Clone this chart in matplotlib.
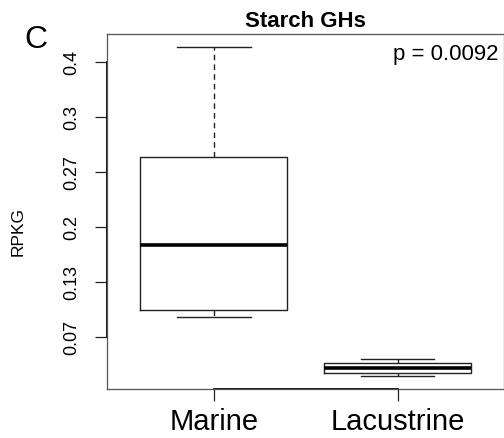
import matplotlib.pyplot as plt
from matplotlib.transforms import blended_transform_factory

plt.rcParams['font.family'] = ['Liberation Sans', 'DejaVu Sans']

groups = ["Marine", "Lacustrine"]
whislo = [0.091, 0.020]
q1 = [0.100, 0.023]
med = [0.179, 0.029]
q3 = [0.285, 0.036]
whishi = [0.419, 0.040]

ytick_vals = [0.0667, 0.1333, 0.2, 0.2667, 0.3333, 0.4]
ytick_labels = ["0.07", "0.13", "0.2", "0.27", "0.3", "0.4"]

stats = []
for i, g in enumerate(groups):
    stats.append(dict(label=g, whislo=whislo[i], q1=q1[i], med=med[i],
                      q3=q3[i], whishi=whishi[i], fliers=[]))

fig = plt.figure(figsize=(5.04, 4.38), dpi=100)
ax = fig.add_axes([0.2123, 0.1119, 0.7885, 0.8116])

ax.bxp(stats, positions=[1, 2], widths=0.8, showfliers=False,
       boxprops=dict(color='#222222', linewidth=1.0),
       medianprops=dict(color='black', linewidth=2.6, solid_capstyle='butt'),
       whiskerprops=dict(color='#222222', linewidth=1.0, linestyle=(0, (4, 3))),
       capprops=dict(color='#222222', linewidth=1.0),
       capwidths=0.4)

ax.set_xlim(0.42, 2.58)
ax.set_ylim(0.004, 0.435)

for s in ax.spines.values():
    s.set_color('#555555')
    s.set_linewidth(0.9)

ax.set_yticks(ytick_vals)
ax.set_yticklabels(ytick_labels, rotation=90, va='center', fontsize=13)
ax.set_xticks([1, 2])
ax.set_xticklabels(groups, fontsize=21)
ax.tick_params(axis='y', length=8.5, width=0.9, pad=11, color='#222222')
ax.tick_params(axis='x', length=8.5, width=0.9, pad=5, color='#222222')

# R style axis lines between first and last tick
tl = blended_transform_factory(ax.transAxes, ax.transData)
ax.plot([0, 0], [ytick_vals[0], ytick_vals[-1]], color='black', lw=1.3,
        transform=tl, clip_on=False)
tb = blended_transform_factory(ax.transData, ax.transAxes)
ax.plot([1, 2], [0, 0], color='black', lw=1.3, transform=tb, clip_on=False)

ax.set_ylabel("RPKG", fontsize=12.5)
ax.yaxis.set_label_coords(-0.205, 0.444)
ax.set_title("Starch GHs", fontsize=16, fontweight='bold', pad=5)
ax.text(0.985, 0.97, "p = 0.0092", transform=ax.transAxes, ha='right',
        va='top', fontsize=16)
fig.text(0.048, 0.89, "C", fontsize=23)

fig.savefig("out.png", dpi=100)
